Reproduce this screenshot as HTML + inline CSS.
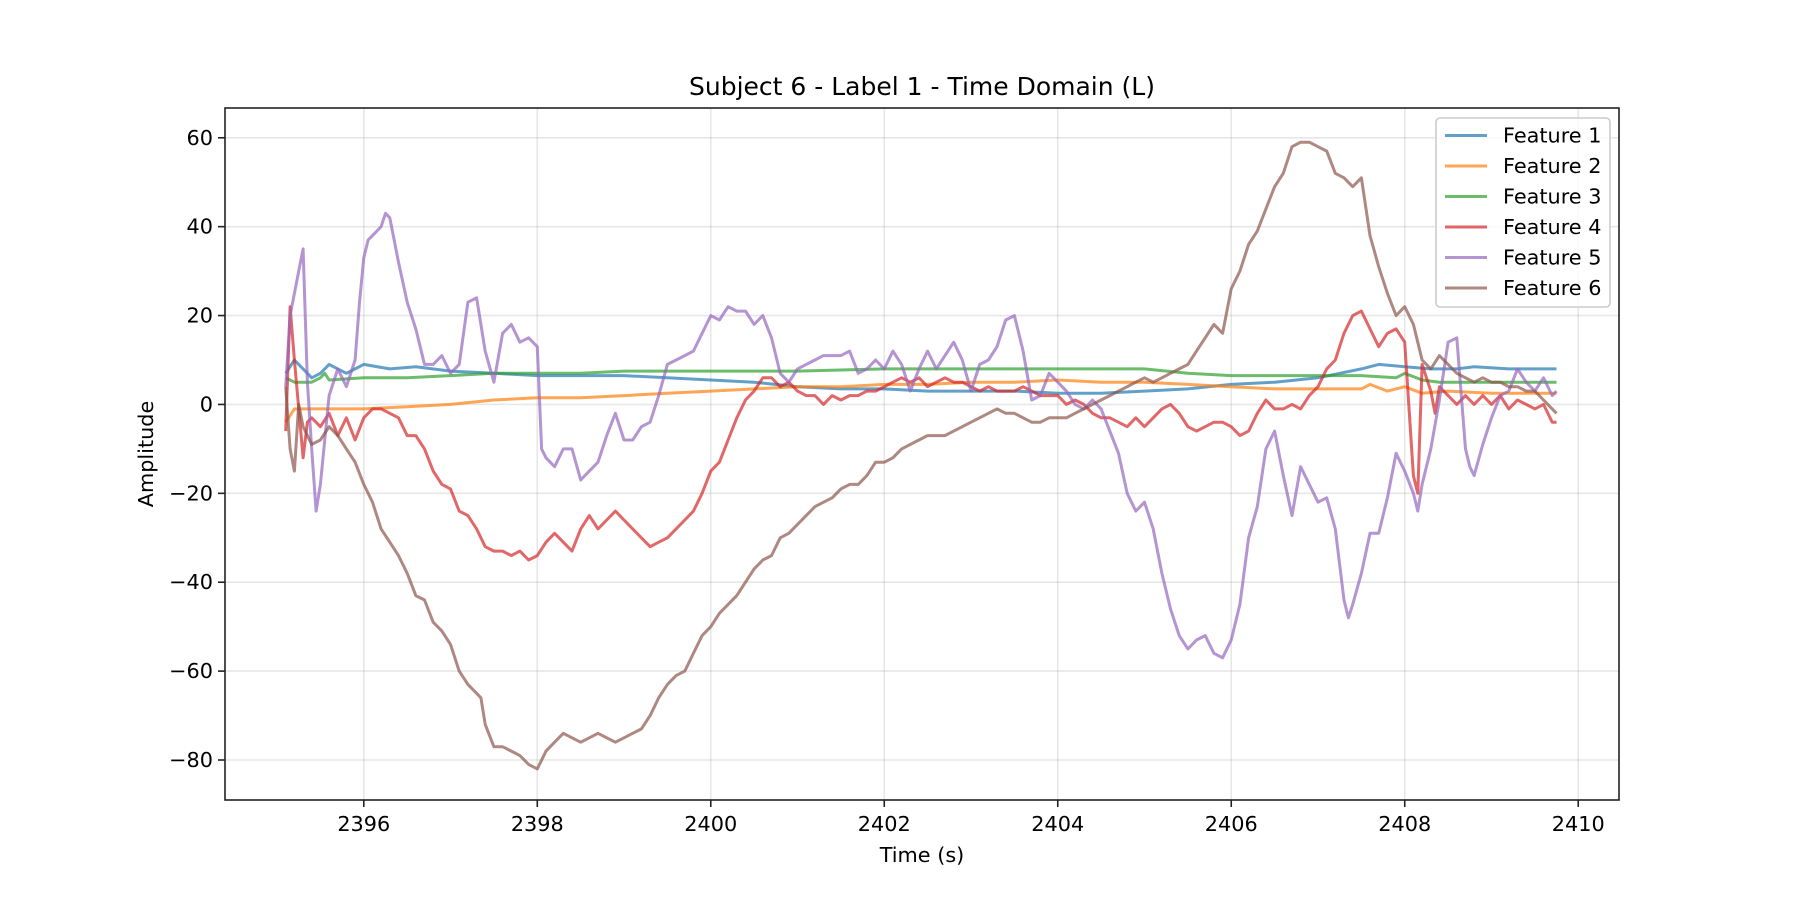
<!DOCTYPE html>
<html><head><meta charset="utf-8">
<style>
html,body{margin:0;padding:0;background:#fff;}
svg{display:block;font-family:"DejaVu Sans","Liberation Sans",sans-serif;}
</style></head>
<body>
<svg id="chart" width="1800" height="900" viewBox="0 0 1800 900" xmlns="http://www.w3.org/2000/svg">
<rect x="0" y="0" width="1800" height="900" fill="#fff"/>
<g id="grid"></g>
<g id="series"></g>
<rect x="225" y="108" width="1394" height="692" fill="none" stroke="#222" stroke-width="1.6"/>
<g id="ticks"></g>
<text x="922" y="95" font-size="25" text-anchor="middle" fill="#000">Subject 6 - Label 1 - Time Domain (L)</text>
<text x="922" y="862" font-size="20.8" text-anchor="middle" fill="#000">Time (s)</text>
<text x="0" y="0" font-size="20.8" text-anchor="middle" fill="#000" transform="translate(153,454) rotate(-90)">Amplitude</text>
<g id="legend"></g>
</svg>
<script>
const xTicks = [2396, 2398, 2400, 2402, 2404, 2406, 2408, 2410];
const yTicks = [-80, -60, -40, -20, 0, 20, 40, 60];
const seriesNames = ["Feature 1","Feature 2","Feature 3","Feature 4","Feature 5","Feature 6"];
const seriesColors = ["#1f77b4","#ff7f0e","#2ca02c","#d62728","#9467bd","#8c564b"];

const f1t = [2395.1,2395.2,2395.3,2395.4,2395.5,2395.6,2395.7,2395.8,2395.9,2396.0,2396.3,2396.6,2397.0,2397.5,2398.0,2398.5,2399.0,2399.5,2400.0,2400.5,2401.0,2401.5,2402.0,2402.5,2403.0,2403.5,2404.0,2404.5,2405.0,2405.5,2406.0,2406.5,2407.0,2407.5,2407.7,2408.0,2408.3,2408.6,2408.8,2409.2,2409.75];
const f1v = [7,10,8,6,7,9,8,7,8,9,8,8.5,7.5,7,6.5,6.5,6.5,6,5.5,5,4,3.5,3.5,3,3,3,2.5,2.5,3,3.5,4.5,5,6,8,9,8.5,8,8,8.5,8,8];
const f2t = [2395.1,2395.2,2395.4,2396.0,2396.5,2397.0,2397.5,2398.0,2398.5,2399.0,2399.5,2400.0,2400.5,2401.0,2401.5,2402.0,2402.5,2403.0,2403.5,2404.0,2404.5,2405.0,2405.5,2406.0,2406.5,2407.0,2407.5,2407.6,2407.8,2408.0,2408.2,2408.5,2409.0,2409.75];
const f2v = [-4,-1,-1,-1,-0.5,0,1,1.5,1.5,2,2.5,3,3.5,4,4,4.5,4.5,5,5,5.5,5,5,4.5,4,3.5,3.5,3.5,4.5,3,4,2.5,3,2.5,2.5];
const f3t = [2395.1,2395.2,2395.4,2395.5,2395.55,2395.6,2396.0,2396.5,2397.0,2397.5,2398.0,2398.5,2399.0,2399.5,2400.0,2401.0,2402.0,2403.0,2404.0,2405.0,2405.5,2406.0,2406.5,2407.0,2407.5,2407.9,2408.0,2408.2,2408.4,2409.0,2409.75];
const f3v = [6,5,5,6,7,5.5,6,6,6.5,7,7,7,7.5,7.5,7.5,7.5,8,8,8,8,7,6.5,6.5,6.5,6.5,6,7,5.5,5,5,5];
const f4t = [2395.1,2395.15,2395.2,2395.3,2395.35,2395.4,2395.5,2395.6,2395.7,2395.8,2395.9,2396.0,2396.1,2396.2,2396.3,2396.4,2396.5,2396.6,2396.7,2396.8,2396.9,2397.0,2397.1,2397.2,2397.3,2397.4,2397.5,2397.6,2397.7,2397.8,2397.9,2398.0,2398.1,2398.2,2398.3,2398.4,2398.5,2398.6,2398.7,2398.8,2398.9,2399.0,2399.1,2399.2,2399.3,2399.4,2399.5,2399.6,2399.7,2399.8,2399.9,2400.0,2400.1,2400.2,2400.3,2400.4,2400.5,2400.6,2400.7,2400.8,2400.9,2401.0,2401.1,2401.2,2401.3,2401.4,2401.5,2401.6,2401.7,2401.8,2401.9,2402.0,2402.1,2402.2,2402.3,2402.4,2402.5,2402.6,2402.7,2402.8,2402.9,2403.0,2403.1,2403.2,2403.3,2403.4,2403.5,2403.6,2403.7,2403.8,2403.9,2404.0,2404.1,2404.2,2404.3,2404.4,2404.5,2404.6,2404.7,2404.8,2404.9,2405.0,2405.1,2405.2,2405.3,2405.4,2405.5,2405.6,2405.7,2405.8,2405.9,2406.0,2406.1,2406.2,2406.3,2406.4,2406.5,2406.6,2406.7,2406.8,2406.9,2407.0,2407.1,2407.2,2407.3,2407.4,2407.5,2407.6,2407.7,2407.8,2407.9,2408.0,2408.1,2408.15,2408.2,2408.3,2408.35,2408.4,2408.5,2408.6,2408.7,2408.8,2408.9,2409.0,2409.1,2409.2,2409.3,2409.4,2409.5,2409.6,2409.7,2409.75];
const f4v = [-6,22,10,-12,-4,-3,-5,-2,-7,-3,-8,-3,-1,-1,-2,-3,-7,-7,-10,-15,-18,-19,-24,-25,-28,-32,-33,-33,-34,-33,-35,-34,-31,-29,-31,-33,-28,-25,-28,-26,-24,-26,-28,-30,-32,-31,-30,-28,-26,-24,-20,-15,-13,-8,-3,1,3,6,6,4,5,3,2,2,0,2,1,2,2,3,3,4,5,6,5,6,4,5,6,5,5,4,3,4,3,3,3,4,3,2,2,2,0,1,0,-2,-3,-3,-4,-5,-3,-5,-3,-1,0,-2,-5,-6,-5,-4,-4,-5,-7,-6,-2,1,-1,-1,0,-1,2,4,8,10,16,20,21,17,13,16,17,14,-16,-20,9,3,-2,4,2,0,2,0,2,0,2,-1,1,0,-1,0,-4,-4];
const f5t = [2395.1,2395.15,2395.25,2395.3,2395.35,2395.4,2395.45,2395.5,2395.6,2395.7,2395.8,2395.9,2395.95,2396.0,2396.05,2396.1,2396.2,2396.25,2396.3,2396.4,2396.5,2396.6,2396.7,2396.8,2396.9,2397.0,2397.1,2397.2,2397.3,2397.4,2397.5,2397.6,2397.7,2397.8,2397.9,2398.0,2398.05,2398.1,2398.2,2398.3,2398.4,2398.5,2398.6,2398.7,2398.8,2398.9,2399.0,2399.1,2399.2,2399.3,2399.4,2399.5,2399.6,2399.7,2399.8,2399.9,2400.0,2400.1,2400.2,2400.3,2400.4,2400.5,2400.6,2400.7,2400.8,2400.9,2401.0,2401.1,2401.2,2401.3,2401.4,2401.5,2401.6,2401.7,2401.8,2401.9,2402.0,2402.1,2402.2,2402.3,2402.4,2402.5,2402.6,2402.7,2402.8,2402.9,2403.0,2403.1,2403.2,2403.3,2403.4,2403.5,2403.6,2403.7,2403.8,2403.9,2404.0,2404.1,2404.2,2404.3,2404.4,2404.5,2404.6,2404.7,2404.8,2404.9,2405.0,2405.1,2405.2,2405.3,2405.4,2405.5,2405.6,2405.7,2405.8,2405.9,2406.0,2406.1,2406.2,2406.3,2406.4,2406.5,2406.6,2406.7,2406.8,2406.9,2407.0,2407.1,2407.2,2407.3,2407.35,2407.4,2407.5,2407.6,2407.7,2407.8,2407.9,2408.0,2408.1,2408.15,2408.2,2408.3,2408.4,2408.5,2408.6,2408.7,2408.75,2408.8,2408.9,2409.0,2409.1,2409.2,2409.3,2409.4,2409.5,2409.6,2409.7,2409.75];
const f5v = [4,20,30,35,5,-10,-24,-18,2,8,4,10,23,33,37,38,40,43,42,32,23,17,9,9,11,7,9,23,24,12,5,16,18,14,15,13,-10,-12,-14,-10,-10,-17,-15,-13,-7,-2,-8,-8,-5,-4,2,9,10,11,12,16,20,19,22,21,21,18,20,15,7,5,8,9,10,11,11,11,12,7,8,10,8,12,9,3,8,12,8,11,14,10,3,9,10,13,19,20,12,1,2,7,5,3,0,-1,1,-1,-6,-11,-20,-24,-22,-28,-38,-46,-52,-55,-53,-52,-56,-57,-53,-45,-30,-23,-10,-6,-16,-25,-14,-18,-22,-21,-28,-44,-48,-45,-38,-29,-29,-21,-11,-15,-20,-24,-18,-10,1,14,15,-10,-14,-16,-9,-3,2,3,8,5,3,6,2,3];
const f6t = [2395.1,2395.15,2395.2,2395.25,2395.3,2395.4,2395.5,2395.6,2395.7,2395.8,2395.9,2396.0,2396.1,2396.2,2396.3,2396.4,2396.5,2396.6,2396.7,2396.8,2396.9,2397.0,2397.1,2397.2,2397.3,2397.35,2397.4,2397.5,2397.6,2397.7,2397.8,2397.9,2398.0,2398.1,2398.2,2398.3,2398.4,2398.5,2398.6,2398.7,2398.8,2398.9,2399.0,2399.1,2399.2,2399.3,2399.4,2399.5,2399.6,2399.7,2399.8,2399.9,2400.0,2400.1,2400.2,2400.3,2400.4,2400.5,2400.6,2400.7,2400.8,2400.9,2401.0,2401.1,2401.2,2401.3,2401.4,2401.5,2401.6,2401.7,2401.8,2401.9,2402.0,2402.1,2402.2,2402.3,2402.4,2402.5,2402.6,2402.7,2402.8,2402.9,2403.0,2403.1,2403.2,2403.3,2403.4,2403.5,2403.6,2403.7,2403.8,2403.9,2404.0,2404.1,2404.2,2404.3,2404.4,2404.5,2404.6,2404.7,2404.8,2404.9,2405.0,2405.1,2405.2,2405.3,2405.4,2405.5,2405.6,2405.7,2405.8,2405.9,2406.0,2406.1,2406.2,2406.3,2406.4,2406.5,2406.6,2406.7,2406.8,2406.9,2407.0,2407.1,2407.2,2407.3,2407.4,2407.5,2407.6,2407.7,2407.8,2407.9,2408.0,2408.1,2408.2,2408.3,2408.4,2408.5,2408.6,2408.7,2408.8,2408.9,2409.0,2409.1,2409.2,2409.3,2409.4,2409.5,2409.6,2409.7,2409.75];
const f6v = [4,-10,-15,0,-5,-9,-8,-5,-7,-10,-13,-18,-22,-28,-31,-34,-38,-43,-44,-49,-51,-54,-60,-63,-65,-66,-72,-77,-77,-78,-79,-81,-82,-78,-76,-74,-75,-76,-75,-74,-75,-76,-75,-74,-73,-70,-66,-63,-61,-60,-56,-52,-50,-47,-45,-43,-40,-37,-35,-34,-30,-29,-27,-25,-23,-22,-21,-19,-18,-18,-16,-13,-13,-12,-10,-9,-8,-7,-7,-7,-6,-5,-4,-3,-2,-1,-2,-2,-3,-4,-4,-3,-3,-3,-2,-1,0,1,2,3,4,5,6,5,6,7,8,9,12,15,18,16,26,30,36,39,44,49,52,58,59,59,58,57,52,51,49,51,38,31,25,20,22,18,10,8,11,9,7,6,5,6,5,5,4,4,3,3,1,-1,-2];

const seriesT = [f1t,f2t,f3t,f4t,f5t,f6t];
const seriesV = [f1v,f2v,f3v,f4v,f5v,f6v];

const NS = "http://www.w3.org/2000/svg";
const L=225,R=1619,T=108,B=800;
const xMin=2394.40,xMax=2410.47,yMin=-89.0,yMax=66.7;
function sx(t){return L+(t-xMin)/(xMax-xMin)*(R-L);}
function sy(v){return B-(v-yMin)/(yMax-yMin)*(B-T);}
function mk(tag,attrs,parent){const e=document.createElementNS(NS,tag);for(const k in attrs)e.setAttribute(k,attrs[k]);parent.appendChild(e);return e;}

const grid=document.getElementById('grid'), ticks=document.getElementById('ticks');
xTicks.forEach(t=>{
  const x=sx(t);
  const g=mk('line',{x1:x,x2:x,y1:T,y2:B,stroke:'#b0b0b0','stroke-opacity':0.3,'stroke-width':1.6},grid);
  
  
  const tk=mk('line',{x1:x,x2:x,y1:B,y2:B+7,stroke:'#222','stroke-width':1.6},ticks);
  
  
  const lb=mk('text',{x:x,y:B+31,'font-size':20.8,'text-anchor':'middle',fill:'#000'},ticks);
  lb.textContent=String(t);
  
  
});
yTicks.forEach(v=>{
  const y=sy(v);
  const g=mk('line',{x1:L,x2:R,y1:y,y2:y,stroke:'#b0b0b0','stroke-opacity':0.3,'stroke-width':1.6},grid);
  
  
  const tk=mk('line',{x1:L-7,x2:L,y1:y,y2:y,stroke:'#222','stroke-width':1.6},ticks);
  
  
  const lb=mk('text',{x:L-12,y:y+7,'font-size':20.8,'text-anchor':'end',fill:'#000'},ticks);
  lb.textContent=(v<0?'\u2212'+Math.abs(v):String(v));
  
  
});

const sg=document.getElementById('series');
seriesT.forEach((ts,i)=>{
  const vs=seriesV[i];
  const d=ts.map((t,j)=>(j?'L':'M')+sx(t).toFixed(1)+','+sy(vs[j]).toFixed(1)).join(' ');
  const p=mk('path',{d:d,fill:'none',stroke:seriesColors[i],'stroke-opacity':0.7,'stroke-width':3,'stroke-linejoin':'round'},sg);
  
  
});

const lg=document.getElementById('legend');
const box=mk('rect',{x:1436,y:118,width:174,height:189,rx:4,fill:'#fff','fill-opacity':0.8,stroke:'#ccc','stroke-width':1.6},lg);


seriesNames.forEach((n,i)=>{
  const y=135.5+i*30.5;
  const ln=mk('line',{x1:1445,x2:1487,y1:y,y2:y,stroke:seriesColors[i],'stroke-opacity':0.7,'stroke-width':3},lg);
  
  
  const tx=mk('text',{x:1503,y:y+7,'font-size':20.8,fill:'#000'},lg);
  tx.textContent=n;
  
  
});
</script>
</body></html>
